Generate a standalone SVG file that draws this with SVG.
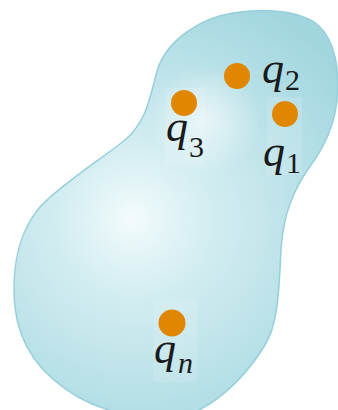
<svg xmlns="http://www.w3.org/2000/svg" width="338" height="410" viewBox="0 0 338 410">
<style>
.dot{fill:#e08600}
.q{font-family:"Liberation Serif","Times New Roman",serif;font-style:italic;font-size:44px;fill:#1a1a1a}
.s{font-family:"Liberation Serif","Times New Roman",serif;font-size:30px;fill:#1a1a1a}
.si{font-style:italic}
.box{fill:#ffffff;opacity:0.12}
.rim{fill:none;stroke:#96cfd9;stroke-width:1.5}
</style>
<defs>
<radialGradient id="g" cx="140" cy="225" r="250" fx="132" fy="218" gradientUnits="userSpaceOnUse">
<stop offset="0" stop-color="#f3fbfc"/>
<stop offset="0.3" stop-color="#d3edf1"/>
<stop offset="0.7" stop-color="#b7e0e7"/>
<stop offset="1" stop-color="#a2d6df"/>
</radialGradient>
<radialGradient id="h" cx="205" cy="120" r="55" gradientUnits="userSpaceOnUse">
<stop offset="0" stop-color="#ffffff" stop-opacity="0.6"/>
<stop offset="1" stop-color="#ffffff" stop-opacity="0"/>
</radialGradient>
<path id="blob" d="M233,13 C262,8 300,10 318,25 C335,40 340,70 337,100 C334,130 322,150 311,165 C293,190 283,215 281,250 C279,290 278,325 265,345 C250,370 225,398 195,412 C165,425 110,415 78,397 C45,378 20,350 15,308 C11,265 20,230 40,207 C60,185 100,160 125,140 C148,120 150,95 158,68 C168,40 200,18 233,13 Z"/>
<clipPath id="c"><use href="#blob"/></clipPath>
</defs>
<g id="body">
<use href="#blob" fill="url(#g)"/>
<g clip-path="url(#c)"><ellipse cx="205" cy="120" rx="55" ry="55" fill="url(#h)"/></g>
<use href="#blob" class="rim"/>
</g>
<g id="connectors"></g>
<g id="q2">
<circle class="dot" cx="237" cy="76" r="13"/>
<text class="q" x="262" y="83">q</text><text class="s" x="285" y="90">2</text>
</g>
<g id="q3">
<rect class="box" x="165" y="88" width="40" height="77"/>
<circle class="dot" cx="184" cy="103" r="13"/>
<text class="q" x="166" y="141">q</text><text class="s" x="189" y="157">3</text>
</g>
<g id="q1">
<rect class="box" x="267" y="97" width="35" height="78"/>
<circle class="dot" cx="285" cy="114" r="13"/>
<text class="q" x="263" y="166">q</text><text class="s" x="286" y="173">1</text>
</g>
<g id="qn">
<rect class="box" x="153" y="300" width="44" height="82"/>
<circle class="dot" cx="172" cy="323" r="13.5"/>
<text class="q" x="154" y="363">q</text><text class="s si" x="178" y="373">n</text>
</g>
</svg>
